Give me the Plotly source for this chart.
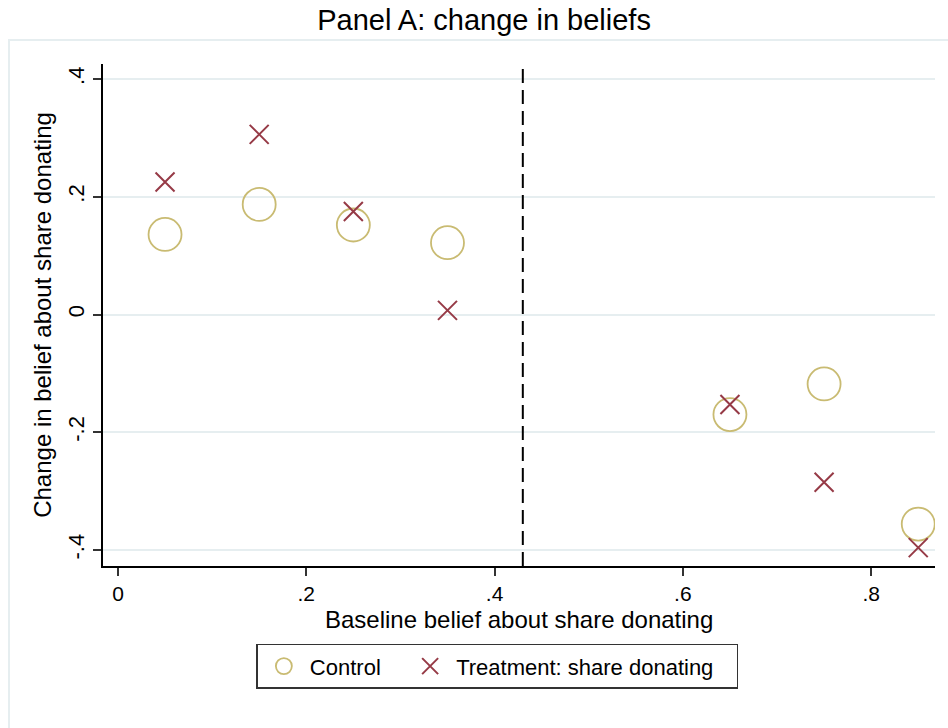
import plotly.graph_objects as go

# Data
baseline = [0.05, 0.15, 0.25, 0.35, 0.65, 0.75, 0.85]
control = [0.136, 0.187, 0.152, 0.122, -0.170, -0.118, -0.356]
treatment = [0.225, 0.306, 0.175, 0.007, -0.153, -0.285, -0.396]
cutoff = 0.43
x_ticks = [0, 0.2, 0.4, 0.6, 0.8]
x_ticklabels = ["0", ".2", ".4", ".6", ".8"]
y_ticks = [-0.4, -0.2, 0, 0.2, 0.4]
y_ticklabels = ["-.4", "-.2", "0", ".2", ".4"]

FONT = "Liberation Sans, Arial, sans-serif"
C_CTRL = "#c9bb72"
C_TREAT = "#963a46"
GRID = "#e6eef0"

fig = go.Figure()
fig.add_trace(go.Scatter(
    x=baseline, y=control, mode="markers", name="Control\u00a0\u00a0\u00a0",
    marker=dict(symbol="circle-open", size=33, color=C_CTRL,
                line=dict(color=C_CTRL, width=1.8)),
))
fig.add_trace(go.Scatter(
    x=baseline, y=treatment, mode="markers",
    name="Treatment: share donating\u00a0\u00a0\u00a0",
    marker=dict(symbol="x-thin-open", size=19, color=C_TREAT,
                line=dict(color=C_TREAT, width=2)),
))

# dashed cutoff line
fig.add_shape(type="line", xref="x", yref="paper", x0=cutoff, x1=cutoff,
              y0=0, y1=1, line=dict(color="black", width=2, dash="14px,7px"))
# outer light frame of graph region
fig.add_shape(type="rect", xref="paper", yref="paper",
              x0=-0.113, x1=1.03, y0=-0.33, y1=1.048,
              line=dict(color=GRID, width=2), layer="below")

# x axis title
fig.add_annotation(text="Baseline belief about share donating", xref="paper",
                   yref="paper", x=0.5, y=-0.106, xanchor="center",
                   yanchor="middle", showarrow=False, font=dict(size=24))

fig.update_layout(
    width=948, height=728,
    margin=dict(l=103, r=13, t=64, b=162),
    paper_bgcolor="white", plot_bgcolor="white",
    font=dict(family=FONT, size=22, color="black"),
    title=dict(text="Panel A: change in beliefs", x=0.5106, xref="container",
               xanchor="center", y=0.9725, yref="container", yanchor="middle",
               font=dict(size=29, family=FONT, color="black")),
    showlegend=True,
    legend=dict(orientation="h", x=0.474, xanchor="center", y=-0.155,
                yanchor="top", bordercolor="#333333", borderwidth=1.5,
                font=dict(size=22, family=FONT), itemsizing="trace",
                itemwidth=42, bgcolor="white"),
)
fig.update_xaxes(
    range=[-0.0159, 0.8678], tickvals=x_ticks, ticktext=x_ticklabels,
    showgrid=False, zeroline=False, showline=True, linecolor="black",
    linewidth=1.5, ticks="outside", ticklen=8, tickwidth=1.5,
    tickcolor="#333333", tickfont=dict(size=21),
)
fig.update_yaxes(
    range=[-0.4272, 0.4255], tickvals=y_ticks, ticktext=y_ticklabels,
    showgrid=True, gridcolor=GRID, gridwidth=1.5, zeroline=False,
    showline=True, linecolor="black", linewidth=1.5, ticks="outside",
    ticklen=8, tickwidth=1.5, tickcolor="#333333", tickangle=-90,
    tickfont=dict(size=22),
    title=dict(text="Change in belief about share donating",
               font=dict(size=24), standoff=6),
)

fig.write_html("out.html")
